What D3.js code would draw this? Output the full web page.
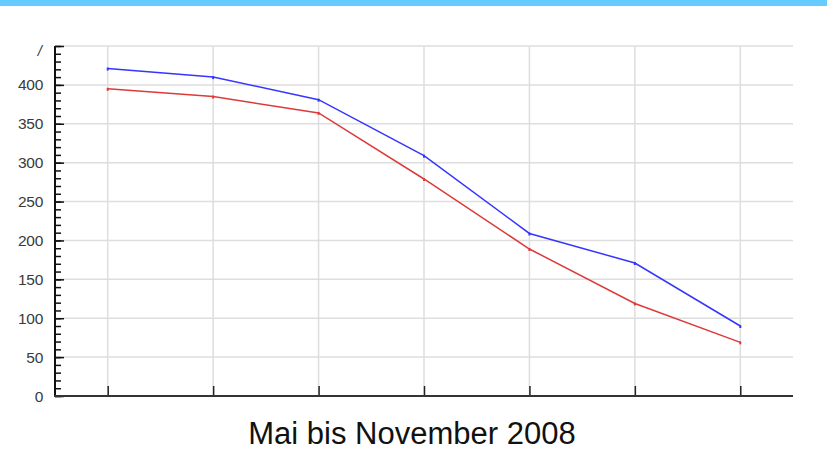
<!DOCTYPE html>
<html>
<head>
<meta charset="utf-8">
<script src="https://cdn.jsdelivr.net/npm/d3@7"></script>
<style>
    body { margin: 0; background: #fff; }
    #chart { width: 827px; height: 450px; }
    text { font-family: "Liberation Sans", Arial, sans-serif; }
</style>
</head>
<body>
<div id="chart"></div>
<script>
// months Mai - November 2008, no labels drawn on the x axis
var months = ['Mai', 'Juni', 'Juli', 'August', 'September', 'Oktober', 'November'];
var blueValues = [421, 410, 381, 309, 209, 171, 90];
var redValues = [395, 385, 364, 279, 189, 119, 69];
var yTicks = [0, 50, 100, 150, 200, 250, 300, 350, 400];
var topLabel = '/';
var title = 'Mai bis November 2008';

var svgWidth = 827, svgHeight = 450;

var svg = d3.select('#chart').append('svg')
    .attr('width', svgWidth)
    .attr('height', svgHeight);

// light blue band at the top
svg.append('rect')
    .attr('x', 0).attr('y', 0)
    .attr('width', svgWidth).attr('height', 6)
    .attr('fill', '#66ccff');

var x = d3.scalePoint()
    .domain(months)
    .range([55, 793])
    .padding(0.5);

var y = d3.scaleLinear()
    .domain([0, 450])
    .range([396, 46]);

// grid
var grid = svg.append('g').attr('stroke', '#dedede').attr('stroke-width', 1.5);

grid.selectAll('.h')
    .data(yTicks.concat([450]).filter(d => d > 0))
    .enter().append('line')
    .attr('x1', 55).attr('x2', 793)
    .attr('y1', d => y(d)).attr('y2', d => y(d));

grid.selectAll('.v')
    .data(months)
    .enter().append('line')
    .attr('x1', d => x(d)).attr('x2', d => x(d))
    .attr('y1', y(450)).attr('y2', y(0));

// y axis with minor ticks
var yAxisMinor = d3.axisRight(y)
    .tickValues(d3.range(0, 451, 10))
    .tickSize(6)
    .tickFormat('');

var gMinor = svg.append('g')
    .attr('transform', 'translate(55,0)')
    .call(yAxisMinor);
gMinor.select('.domain').remove();
gMinor.selectAll('line').attr('stroke', '#111').attr('stroke-width', 1.5);

var yAxis = d3.axisRight(y)
    .tickValues(yTicks.concat([450]))
    .tickSize(9)
    .tickFormat('');

var gY = svg.append('g')
    .attr('transform', 'translate(55,0)')
    .call(yAxis);
gY.select('.domain').remove();
gY.selectAll('line').attr('stroke', '#111').attr('stroke-width', 1.5);

svg.append('line')
    .attr('x1', 55).attr('x2', 55)
    .attr('y1', y(450)).attr('y2', y(0))
    .attr('stroke', '#111').attr('stroke-width', 2);

// y labels
svg.selectAll('.ylabel')
    .data(yTicks)
    .enter().append('text')
    .attr('x', 43)
    .attr('y', d => y(d) + 5.5)
    .attr('text-anchor', 'end')
    .attr('font-size', 15.5)
    .attr('letter-spacing', -0.3)
    .attr('fill', '#3a3a3a')
    .text(d => d);

svg.append('text')
    .attr('x', 42)
    .attr('y', y(450) + 10)
    .attr('text-anchor', 'end')
    .attr('font-size', 15)
    .attr('font-style', 'italic')
    .attr('fill', '#3a3a3a')
    .text(topLabel);

// x axis
var xAxis = d3.axisTop(x)
    .tickSize(10)
    .tickFormat('');

var gX = svg.append('g')
    .attr('transform', 'translate(0,' + y(0) + ')')
    .call(xAxis);
gX.select('.domain').remove();
gX.selectAll('line').attr('stroke', '#222').attr('stroke-width', 1.5);

svg.append('line')
    .attr('x1', 54).attr('x2', 793)
    .attr('y1', y(0)).attr('y2', y(0))
    .attr('stroke', '#333').attr('stroke-width', 2);

// lines
var line = d3.line()
    .x((d, i) => x(months[i]))
    .y(d => y(d));

var series = [
    { values: blueValues, color: '#3535ff' },
    { values: redValues, color: '#dd3a3a' }
];

series.forEach(function (s) {
    svg.append('path')
        .datum(s.values)
        .attr('d', line)
        .attr('fill', 'none')
        .attr('stroke', s.color)
        .attr('stroke-width', 1.5);

    svg.selectAll(null)
        .data(s.values)
        .enter().append('rect')
        .attr('x', (d, i) => x(months[i]) - 1)
        .attr('y', d => y(d) - 1)
        .attr('width', 2).attr('height', 3)
        .attr('fill', s.color);
});

// title
svg.append('text')
    .attr('x', 412)
    .attr('y', 444)
    .attr('text-anchor', 'middle')
    .attr('font-size', 31)
    .attr('fill', '#111')
    .text(title);
</script>
</body>
</html>
